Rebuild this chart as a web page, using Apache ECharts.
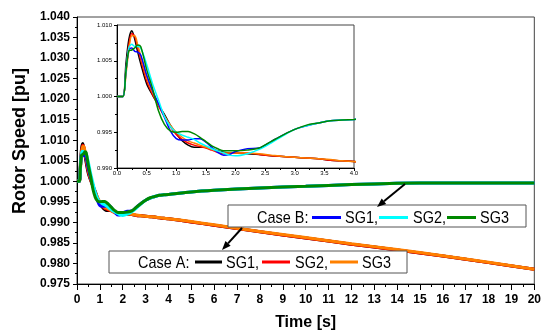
<!DOCTYPE html>
<html>
<head>
<meta charset="utf-8">
<script src="https://cdn.jsdelivr.net/npm/echarts@6/dist/echarts.min.js"></script>
<style>
  html, body { margin: 0; padding: 0; background: #fff; }
  #chart { width: 544px; height: 336px; }
</style>
</head>
<body>
<div id="chart"></div>
<script>
// time axis [s], shared by all six curves
const timeS = [0, 0.1, 0.15, 0.2, 0.25, 0.3, 0.35, 0.4, 0.5, 0.6, 0.7, 0.8, 0.9, 1.0, 1.1, 1.2, 1.3, 1.4, 1.5, 1.6, 1.7, 1.8, 1.9, 2.0,
  2.2, 2.4, 2.6, 2.8, 3.0, 3.2, 3.4, 3.6, 3.8, 4.0, 5, 6, 8, 10, 12, 14, 16, 18, 20]

// Case A
const caseA_SG1 = [1.0000, 1.0000, 1.0045, 1.0080, 1.0092, 1.0080, 1.0062, 1.0046, 1.0018, 1.0002, 0.9988, 0.9975, 0.9960, 0.9948, 0.9938, 0.9932, 0.9929, 0.9929, 0.9929, 0.9927, 0.9924, 0.9922, 0.9921, 0.9921,
  0.9920, 0.9919, 0.9917, 0.9916, 0.9915, 0.9914, 0.9913, 0.9911, 0.9910, 0.9909, 0.9901, 0.9893, 0.9877, 0.9862, 0.9847, 0.9833, 0.9818, 0.9802, 0.9786]
const caseA_SG2 = [1.0000, 1.0000, 1.0035, 1.0072, 1.0088, 1.0084, 1.0068, 1.0052, 1.0022, 1.0003, 0.9987, 0.9972, 0.9958, 0.9947, 0.9940, 0.9935, 0.9932, 0.9930, 0.9928, 0.9925, 0.9922, 0.9920, 0.9920, 0.9921,
  0.9921, 0.9919, 0.9917, 0.9916, 0.9915, 0.9914, 0.9913, 0.9911, 0.9910, 0.9909, 0.9901, 0.9893, 0.9877, 0.9862, 0.9847, 0.9833, 0.9818, 0.9802, 0.9786]
const caseA_SG3 = [1.0000, 1.0000, 1.0030, 1.0065, 1.0085, 1.0085, 1.0072, 1.0057, 1.0027, 1.0006, 0.9989, 0.9973, 0.9960, 0.9950, 0.9943, 0.9938, 0.9935, 0.9932, 0.9929, 0.9926, 0.9923, 0.9921, 0.9921, 0.9921,
  0.9921, 0.9920, 0.9918, 0.9916, 0.9915, 0.9914, 0.9913, 0.9912, 0.9910, 0.9909, 0.9902, 0.9894, 0.9878, 0.9863, 0.9848, 0.9834, 0.9819, 0.9803, 0.9786]

// Case B
const caseB_SG1 = [1.0000, 1.0000, 1.0035, 1.0066, 1.0068, 1.0063, 1.0062, 1.0058, 1.0030, 1.0008, 0.9990, 0.9971, 0.9952, 0.9941, 0.9939, 0.9939, 0.9941, 0.9941, 0.9936, 0.9929, 0.9922, 0.9918, 0.9919, 0.9923,
  0.9927, 0.9928, 0.9937, 0.9946, 0.9954, 0.9959, 0.9963, 0.9966, 0.9967, 0.9968, 0.9974, 0.9978, 0.9984, 0.9988, 0.9992, 0.9995, 0.9996, 0.9996, 0.9996]
const caseB_SG2 = [1.0000, 1.0000, 1.0035, 1.0068, 1.0073, 1.0070, 1.0070, 1.0068, 1.0045, 1.0018, 0.9995, 0.9972, 0.9958, 0.9950, 0.9946, 0.9943, 0.9940, 0.9935, 0.9931, 0.9927, 0.9924, 0.9921, 0.9918, 0.9917,
  0.9920, 0.9926, 0.9935, 0.9945, 0.9954, 0.9959, 0.9963, 0.9966, 0.9967, 0.9968, 0.9974, 0.9978, 0.9984, 0.9988, 0.9992, 0.9995, 0.9996, 0.9996, 0.9996]
const caseB_SG3 = [1.0000, 1.0000, 1.0035, 1.0064, 1.0065, 1.0068, 1.0072, 1.0070, 1.0038, 1.0011, 0.9980, 0.9961, 0.9952, 0.9950, 0.9951, 0.9951, 0.9948, 0.9943, 0.9937, 0.9931, 0.9927, 0.9924, 0.9924, 0.9924,
  0.9925, 0.9928, 0.9937, 0.9946, 0.9954, 0.9960, 0.9963, 0.9966, 0.9967, 0.9968, 0.9974, 0.9978, 0.9984, 0.9988, 0.9992, 0.9995, 0.9996, 0.9996, 0.9996]

const curves = [
  { name: 'A SG1', values: caseA_SG1, color: '#000000' },
  { name: 'A SG2', values: caseA_SG2, color: '#ff0000' },
  { name: 'A SG3', values: caseA_SG3, color: '#ff8000' },
  { name: 'B SG1', values: caseB_SG1, color: '#0000ff' },
  { name: 'B SG2', values: caseB_SG2, color: '#00ffff' },
  { name: 'B SG3', values: caseB_SG3, color: '#008800' },
]

const font = 'Liberation Sans'

function pairs(values) {
  return timeS.map((t, i) => [t, values[i]])
}

function arrow(x1, y1, x2, y2) {
  const ang = Math.atan2(y2 - y1, x2 - x1)
  const len = 9, half = 3.5
  const bx = x2 - len * Math.cos(ang), by = y2 - len * Math.sin(ang)
  const nx = -Math.sin(ang) * half, ny = Math.cos(ang) * half
  return [
    { type: 'line', z: 100, shape: { x1, y1, x2: bx, y2: by }, style: { stroke: '#000', lineWidth: 2 } },
    { type: 'polygon', z: 100, shape: { points: [[x2, y2], [bx + nx, by + ny], [bx - nx, by - ny]] }, style: { fill: '#000' } },
  ]
}

function legendBox(x, y, w, h, label, items, cy) {
  const els = [
    { type: 'rect', z: 99, shape: { x, y, width: w, height: h }, style: { fill: '#fff', stroke: '#555', lineWidth: 1 } },
    { type: 'text', z: 101, x: label.x, y: cy + 1, scaleX: 0.85,
      style: { text: label.text, font: '17px "' + font + '"', fill: '#000', verticalAlign: 'middle' } },
  ]
  items.forEach((it) => {
    els.push({ type: 'line', z: 101, shape: { x1: it.x1, y1: cy, x2: it.x2, y2: cy }, style: { stroke: it.color, lineWidth: 3 } })
    els.push({ type: 'text', z: 101, x: it.tx, y: cy + 1, scaleX: 0.85,
      style: { text: it.text, font: '17px "' + font + '"', fill: '#000', verticalAlign: 'middle' } })
  })
  return els
}

const chart = echarts.init(document.getElementById('chart'), null, { renderer: 'canvas' })

const series = []
curves.forEach((c) => {
  series.push({
    type: 'line', name: c.name, xAxisIndex: 0, yAxisIndex: 0, data: pairs(c.values),
    showSymbol: false, smooth: 0.3, lineStyle: { color: c.color, width: 3 }, z: 3,
  })
})
curves.forEach((c) => {
  series.push({
    type: 'line', name: c.name + ' zoom', xAxisIndex: 1, yAxisIndex: 1, data: pairs(c.values),
    showSymbol: false, smooth: 0.3, lineStyle: { color: c.color, width: 1.5 }, z: 12, clip: true,
  })
})

const option = {
  animation: false,
  backgroundColor: '#fff',
  grid: [
    { left: 77, top: 17, right: 9, bottom: 49.5, show: true, borderColor: '#444', borderWidth: 1, backgroundColor: '#fff' },
    { left: 117, top: 25, right: 190, bottom: 168, show: true, borderColor: '#444', borderWidth: 1, backgroundColor: '#fff', z: 10 },
  ],
  xAxis: [
    {
      gridIndex: 0, type: 'value', min: 0, max: 20, interval: 1,
      name: 'Time [s]', nameLocation: 'middle', nameGap: 31,
      nameTextStyle: { fontFamily: font, fontWeight: 'bold', fontSize: 16, color: '#000' },
      axisLine: { onZero: false, lineStyle: { color: '#000', width: 1 } },
      axisTick: { show: true, length: 6, lineStyle: { color: '#000' } },
      minorTick: { show: true, splitNumber: 2, length: 3, lineStyle: { color: '#000' } },
      axisLabel: { margin: 10, fontFamily: font, fontWeight: 'bold', fontSize: 12, color: '#000' },
      splitLine: { show: false },
    },
    {
      gridIndex: 1, type: 'value', min: 0, max: 4, interval: 0.5, z: 11,
      axisLine: { onZero: false, lineStyle: { color: '#000', width: 1 } },
      axisTick: { show: true, length: 3, lineStyle: { color: '#000' } },
      minorTick: { show: true, splitNumber: 2, length: 2, lineStyle: { color: '#000' } },
      axisLabel: { margin: 2, fontFamily: font, fontSize: 6, color: '#000', formatter: (v) => v.toFixed(1) },
      splitLine: { show: false },
    },
  ],
  yAxis: [
    {
      gridIndex: 0, type: 'value', min: 0.975, max: 1.040, interval: 0.005,
      axisLine: { show: true, onZero: false, lineStyle: { color: '#000', width: 1 } },
      axisTick: { show: true, length: 4, lineStyle: { color: '#000' } },
      minorTick: { show: true, splitNumber: 2, length: 2, lineStyle: { color: '#000' } },
      axisLabel: { margin: 7, fontFamily: font, fontWeight: 'bold', fontSize: 12, color: '#000', formatter: (v) => v.toFixed(3) },
      splitLine: { show: false },
    },
    {
      gridIndex: 1, type: 'value', min: 0.990, max: 1.010, interval: 0.005, z: 11,
      axisLine: { show: true, onZero: false, lineStyle: { color: '#000', width: 1 } },
      axisTick: { show: true, length: 3, lineStyle: { color: '#000' } },
      minorTick: { show: true, splitNumber: 2, length: 2, lineStyle: { color: '#000' } },
      axisLabel: { margin: 5, fontFamily: font, fontSize: 6, color: '#000', formatter: (v) => v.toFixed(3) },
      splitLine: { show: false },
    },
  ],
  graphic: [
    { type: 'text', z: 100, x: 20, y: 141, rotation: Math.PI / 2,
      style: { text: 'Rotor Speed [pu]', font: 'bold 18px "' + font + '"', fill: '#000', align: 'center', verticalAlign: 'middle' } },
    ...legendBox(228, 205, 298, 22, { x: 257, text: 'Case B:' }, [
      { x1: 312, x2: 341, color: '#0000ff', tx: 345, text: 'SG1,' },
      { x1: 379, x2: 408, color: '#00ffff', tx: 413, text: 'SG2,' },
      { x1: 447, x2: 476, color: '#008800', tx: 480, text: 'SG3' },
    ], 217.5),
    ...legendBox(109, 251, 298, 22, { x: 138, text: 'Case A:' }, [
      { x1: 195, x2: 222, color: '#000000', tx: 226, text: 'SG1,' },
      { x1: 262, x2: 290, color: '#ff0000', tx: 295, text: 'SG2,' },
      { x1: 330, x2: 358, color: '#ff8000', tx: 362, text: 'SG3' },
    ], 262),
    ...arrow(405, 184, 377, 207),
    ...arrow(242, 228, 222, 250),
  ],
  series,
}

chart.setOption(option)
</script>
</body>
</html>
